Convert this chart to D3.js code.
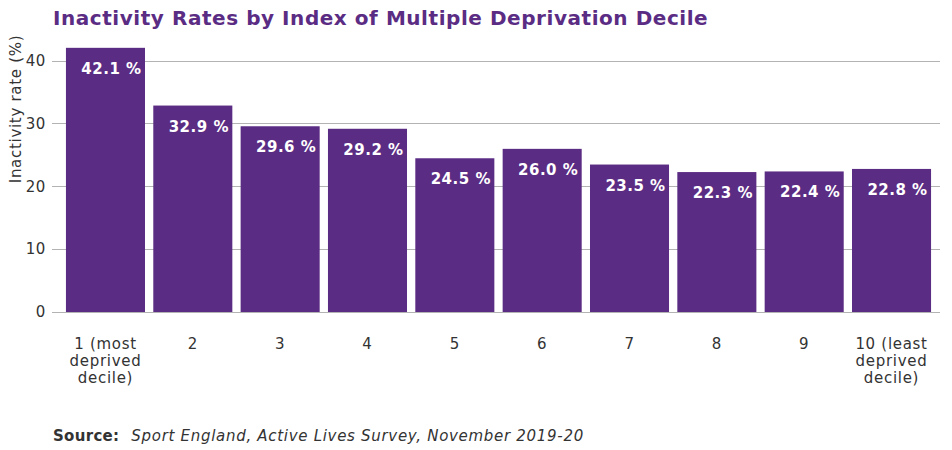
<!DOCTYPE html>
<html><head><meta charset="utf-8">
<script src="https://cdn.jsdelivr.net/npm/d3@7"></script>
<style>body{margin:0;background:#fff}svg{font-family:"DejaVu Sans",Verdana,sans-serif}</style>
</head><body>
<svg id="c" width="952" height="450"></svg>
<script>
const categories = ["1 (most deprived decile)","2","3","4","5","6","7","8","9","10 (least deprived decile)"];
const categoryLines = [["1 (most","deprived","decile)"],["2"],["3"],["4"],["5"],["6"],["7"],["8"],["9"],["10 (least","deprived","decile)"]];
const values = [42.1,32.9,29.6,29.2,24.5,26.0,23.5,22.3,22.4,22.8];
const yTicks = [0,10,20,30,40];

const svg = d3.select("#c");
const m = {l:58, r:940, t:48, b:312};
const purple = "#5b2c83";
const x = d3.scaleBand().domain(categories).range([61.8, 935.2]).paddingInner(0.095).paddingOuter(0.0475);
const y = d3.scaleLinear().domain([0,40]).range([m.b, m.b - 40*6.275]);

// grid
svg.append("g").selectAll("line").data(yTicks).join("line")
  .attr("x1", 52).attr("x2", m.r).attr("y1", d=>y(d)).attr("y2", d=>y(d))
  .attr("stroke", "#b3b3b3").attr("stroke-width", 1).attr("shape-rendering","crispEdges");
svg.append("g").selectAll("text").data(yTicks).join("text")
  .attr("x", 46).attr("y", d=>y(d)+5).attr("text-anchor","end")
  .attr("font-size", 15).attr("letter-spacing",0.6).attr("fill","#333").text(d=>d);

// bars
svg.append("g").selectAll("rect").data(values).join("rect")
  .attr("x", (d,i)=>x(categories[i])).attr("width", x.bandwidth())
  .attr("y", d=>y(d)).attr("height", d=>y(0)-y(d)).attr("fill", purple);
svg.append("g").selectAll("text").data(values).join("text")
  .attr("x", (d,i)=>x(categories[i]) + x.bandwidth()/2 + 6).attr("y", d=>y(d)+26)
  .attr("text-anchor","middle").attr("font-size",15).attr("font-weight","bold").attr("letter-spacing",0.5).attr("fill","#fff")
  .text(d=>d.toFixed(1)+" %");

// x labels
const xl = svg.append("g").selectAll("text").data(categoryLines).join("text")
  .attr("text-anchor","middle").attr("font-size",15).attr("letter-spacing",0.7).attr("fill","#333");
xl.each(function(lines,i){
  const cx = x(categories[i]) + x.bandwidth()/2;
  d3.select(this).selectAll("tspan").data(lines).join("tspan")
    .attr("x", cx).attr("y",(d,j)=>349 + j*17).text(d=>d);
});

// y title
svg.append("text").attr("transform","translate(21,109) rotate(-90)").attr("text-anchor","middle")
  .attr("font-size",15).attr("letter-spacing",0.7).attr("fill","#333").text("Inactivity rate (%)");

// title
svg.append("text").attr("x",53).attr("y",25).attr("font-size",20).attr("font-weight","bold")
  .attr("letter-spacing",0.55).attr("fill",purple).text("Inactivity Rates by Index of Multiple Deprivation Decile");

// source
const s = svg.append("text").attr("x",53).attr("y",441).attr("font-size",15).attr("fill","#333");
s.append("tspan").attr("font-weight","bold").attr("letter-spacing",0.3).text("Source:");
s.append("tspan").attr("font-style","italic").attr("letter-spacing",0.7).attr("dx",12).text("Sport England, Active Lives Survey, November 2019-20");
</script>
</body></html>
